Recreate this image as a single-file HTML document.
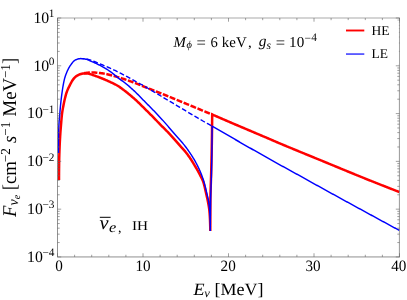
<!DOCTYPE html>
<html><head><meta charset="utf-8"><title>plot</title>
<style>html,body{margin:0;padding:0;background:#fff}body{width:407px;height:300px;overflow:hidden;position:relative;font-family:"Liberation Serif",serif}</style></head>
<body>
<svg width="407" height="300" viewBox="0 0 407 300" style="position:absolute;left:0;top:0">
<rect width="407" height="300" fill="#fff"/>
<g fill="none" stroke-linejoin="round">
<path d="M84.00,73.20 L85.01,73.05 L86.01,72.90 L87.02,72.78 L88.03,72.68 L89.04,72.62 L90.05,72.60 L91.07,72.60 L92.08,72.60 L93.10,72.60 L94.11,72.60 L95.13,72.60 L96.14,72.63 L97.15,72.70 L98.16,72.80 L99.17,72.91 L100.18,73.02 L101.18,73.14 L102.18,73.29 L103.19,73.46 L104.19,73.64 L105.18,73.83 L106.18,74.04 L107.17,74.26 L108.16,74.48 L109.15,74.71 L110.14,74.93 L111.12,75.17 L112.10,75.42 L113.08,75.69 L114.05,75.97 L115.03,76.26 L116.00,76.56 L116.97,76.86 L117.94,77.16 L118.91,77.46 L119.88,77.76 L120.85,78.06 L121.82,78.36 L122.78,78.67 L123.75,78.98 L124.71,79.30 L125.67,79.63 L126.63,79.96 L127.59,80.29 L128.54,80.63 L129.50,80.97 L130.45,81.31 L131.41,81.66 L132.36,82.01 L133.31,82.36 L134.26,82.72 L135.21,83.08 L136.15,83.44 L137.10,83.81 L138.04,84.18 L138.98,84.56 L139.92,84.94 L140.86,85.32 L141.80,85.71 L142.74,86.09 L143.68,86.47 L144.62,86.85 L145.56,87.23 L146.50,87.60 L147.45,87.98 L148.39,88.36 L149.33,88.73 L150.27,89.11 L151.21,89.48 L152.15,89.86 L153.10,90.24 L154.04,90.61 L154.98,90.99 L155.92,91.37 L156.86,91.74 L157.80,92.12 L158.75,92.49 L159.69,92.87 L160.63,93.24 L161.57,93.62 L162.51,94.00 L163.46,94.38 L164.40,94.76 L165.34,95.14 L166.27,95.52 L167.21,95.90 L168.15,96.29 L169.09,96.67 L170.03,97.06 L170.96,97.45 L171.90,97.84 L172.84,98.23 L173.77,98.62 L174.71,99.00 L175.65,99.39 L176.58,99.78 L177.52,100.17 L178.46,100.56 L179.39,100.95 L180.33,101.34 L181.27,101.72 L182.21,102.11 L183.14,102.50 L184.08,102.88 L185.02,103.27 L185.96,103.66 L186.89,104.04 L187.83,104.43 L188.77,104.82 L189.71,105.20 L190.64,105.59 L191.58,105.98 L192.52,106.37 L193.45,106.76 L194.39,107.15 L195.33,107.54 L196.26,107.93 L197.20,108.32 L198.13,108.72 L199.06,109.11 L200.00,109.51 L200.93,109.90 L201.87,110.30 L202.80,110.69 L203.74,111.08 L204.68,111.47 L205.61,111.85 L206.55,112.23 L207.49,112.62 L208.43,113.00 L209.37,113.37 L210.31,113.75 L211.26,114.13 L212.20,114.50" stroke="#f00" stroke-width="2.5" stroke-dasharray="5.9 1.6"/>
<path d="M81.00,58.60 L82.02,58.62 L83.03,58.66 L84.04,58.73 L85.04,58.81 L86.03,58.90 L87.02,59.06 L88.01,59.30 L88.98,59.59 L89.95,59.88 L90.90,60.18 L91.85,60.51 L92.80,60.86 L93.74,61.23 L94.67,61.62 L95.60,62.01 L96.53,62.42 L97.46,62.82 L98.39,63.22 L99.32,63.62 L100.25,64.00 L101.18,64.38 L102.12,64.76 L103.05,65.15 L103.99,65.53 L104.92,65.91 L105.85,66.30 L106.78,66.69 L107.71,67.09 L108.63,67.49 L109.55,67.90 L110.47,68.31 L111.39,68.74 L112.30,69.17 L113.21,69.60 L114.11,70.05 L115.02,70.49 L115.92,70.94 L116.82,71.39 L117.73,71.85 L118.63,72.30 L119.53,72.76 L120.42,73.22 L121.32,73.68 L122.22,74.14 L123.11,74.61 L124.01,75.07 L124.90,75.55 L125.79,76.02 L126.68,76.49 L127.57,76.97 L128.46,77.44 L129.35,77.92 L130.23,78.40 L131.12,78.88 L132.01,79.36 L132.89,79.84 L133.78,80.33 L134.66,80.81 L135.54,81.30 L136.43,81.79 L137.31,82.27 L138.19,82.76 L139.07,83.25 L139.96,83.74 L140.84,84.24 L141.72,84.73 L142.59,85.23 L143.47,85.73 L144.35,86.23 L145.22,86.73 L146.09,87.23 L146.97,87.74 L147.84,88.25 L148.71,88.76 L149.57,89.27 L150.44,89.79 L151.31,90.30 L152.18,90.82 L153.04,91.33 L153.91,91.85 L154.78,92.37 L155.64,92.88 L156.51,93.40 L157.37,93.92 L158.24,94.44 L159.10,94.96 L159.97,95.48 L160.83,96.00 L161.69,96.52 L162.56,97.04 L163.42,97.56 L164.29,98.07 L165.15,98.59 L166.02,99.11 L166.89,99.62 L167.75,100.14 L168.62,100.65 L169.49,101.17 L170.36,101.68 L171.23,102.20 L172.09,102.71 L172.96,103.22 L173.83,103.74 L174.70,104.25 L175.57,104.76 L176.43,105.28 L177.30,105.79 L178.17,106.31 L179.03,106.82 L179.90,107.34 L180.77,107.86 L181.63,108.38 L182.50,108.90 L183.36,109.42 L184.22,109.94 L185.09,110.46 L185.95,110.98 L186.81,111.50 L187.68,112.02 L188.54,112.54 L189.41,113.06 L190.27,113.58 L191.14,114.10 L192.00,114.62 L192.87,115.14 L193.73,115.65 L194.60,116.17 L195.47,116.68 L196.34,117.19 L197.21,117.70 L198.08,118.21 L198.95,118.71 L199.83,119.22 L200.70,119.73 L201.57,120.23 L202.44,120.74 L203.32,121.24 L204.19,121.74 L205.07,122.24 L205.95,122.74 L206.82,123.24 L207.70,123.73 L208.58,124.23 L209.46,124.72 L210.34,125.22 L211.22,125.71 L212.10,126.20" stroke="#00f" stroke-width="1.4" stroke-dasharray="4.9 2.3" stroke-dashoffset="1.7"/>
<path d="M59.00,180.00 L59.00,179.00 L59.00,177.99 L59.01,176.99 L59.01,175.98 L59.02,174.98 L59.02,173.97 L59.03,172.97 L59.04,171.97 L59.05,170.96 L59.06,169.96 L59.07,168.95 L59.08,167.95 L59.10,166.95 L59.11,165.94 L59.13,164.94 L59.14,163.93 L59.15,162.93 L59.17,161.93 L59.19,160.92 L59.20,159.92 L59.22,158.92 L59.24,157.91 L59.26,156.91 L59.29,155.90 L59.32,154.90 L59.35,153.90 L59.39,152.89 L59.42,151.89 L59.46,150.89 L59.50,149.88 L59.54,148.88 L59.58,147.88 L59.62,146.87 L59.66,145.87 L59.71,144.87 L59.75,143.86 L59.80,142.86 L59.84,141.86 L59.90,140.85 L59.95,139.85 L60.01,138.85 L60.06,137.85 L60.12,136.84 L60.18,135.84 L60.25,134.84 L60.31,133.84 L60.38,132.84 L60.45,131.83 L60.52,130.83 L60.60,129.83 L60.68,128.83 L60.76,127.83 L60.85,126.83 L60.93,125.83 L61.01,124.83 L61.10,123.83 L61.18,122.83 L61.26,121.82 L61.34,120.82 L61.42,119.82 L61.51,118.82 L61.60,117.82 L61.70,116.82 L61.80,115.82 L61.90,114.82 L62.02,113.83 L62.15,112.83 L62.29,111.84 L62.45,110.85 L62.62,109.86 L62.79,108.87 L62.97,107.88 L63.16,106.89 L63.35,105.91 L63.53,104.92 L63.73,103.93 L63.93,102.95 L64.13,101.97 L64.35,100.98 L64.57,100.00 L64.80,99.03 L65.04,98.05 L65.28,97.08 L65.54,96.11 L65.80,95.13 L66.08,94.16 L66.37,93.20 L66.68,92.25 L67.01,91.31 L67.37,90.38 L67.76,89.45 L68.17,88.54 L68.61,87.63 L69.06,86.73 L69.52,85.83 L69.98,84.94 L70.44,84.04 L70.90,83.14 L71.37,82.24 L71.86,81.36 L72.38,80.50 L72.94,79.68 L73.54,78.89 L74.19,78.10 L74.90,77.36 L75.64,76.68 L76.42,76.10 L77.26,75.56 L78.16,75.07 L79.09,74.64 L80.02,74.29 L80.98,73.99 L81.95,73.70 L82.95,73.49 L83.94,73.40 L84.94,73.41 L85.95,73.46 L86.96,73.52 L87.95,73.60 L88.94,73.74 L89.91,74.00 L90.87,74.32 L91.83,74.65 L92.78,74.97 L93.72,75.32 L94.66,75.67 L95.60,76.02 L96.55,76.35 L97.50,76.68 L98.45,77.02 L99.39,77.37 L100.32,77.73 L101.26,78.10 L102.19,78.47 L103.12,78.86 L104.04,79.25 L104.97,79.64 L105.89,80.04 L106.81,80.45 L107.72,80.86 L108.64,81.27 L109.55,81.69 L110.46,82.11 L111.37,82.53 L112.29,82.96 L113.20,83.39 L114.10,83.83 L115.00,84.28 L115.89,84.75 L116.77,85.23 L117.63,85.73 L118.48,86.27 L119.31,86.83 L120.14,87.40 L120.96,87.97 L121.78,88.56 L122.59,89.16 L123.39,89.76 L124.19,90.37 L124.98,90.99 L125.77,91.60 L126.56,92.23 L127.35,92.85 L128.13,93.48 L128.91,94.11 L129.69,94.75 L130.46,95.39 L131.24,96.03 L132.00,96.68 L132.77,97.34 L133.52,97.99 L134.28,98.66 L135.03,99.32 L135.77,100.00 L136.51,100.68 L137.24,101.36 L137.96,102.05 L138.69,102.75 L139.41,103.45 L140.12,104.16 L140.84,104.86 L141.55,105.57 L142.26,106.28 L142.97,106.99 L143.69,107.70 L144.40,108.41 L145.11,109.11 L145.83,109.82 L146.54,110.52 L147.26,111.23 L147.97,111.93 L148.69,112.64 L149.40,113.35 L150.11,114.06 L150.82,114.77 L151.53,115.48 L152.24,116.19 L152.95,116.90 L153.65,117.62 L154.35,118.34 L155.05,119.05 L155.75,119.78 L156.44,120.51 L157.12,121.24 L157.81,121.98 L158.50,122.71 L159.19,123.44 L159.88,124.16 L160.58,124.88 L161.29,125.59 L162.01,126.29 L162.74,126.99 L163.46,127.68 L164.18,128.38 L164.89,129.09 L165.59,129.81 L166.29,130.53 L166.98,131.26 L167.67,131.98 L168.36,132.72 L169.05,133.45 L169.73,134.19 L170.41,134.93 L171.09,135.67 L171.76,136.41 L172.44,137.16 L173.11,137.90 L173.78,138.65 L174.46,139.39 L175.13,140.14 L175.79,140.89 L176.46,141.64 L177.12,142.40 L177.78,143.16 L178.43,143.92 L179.09,144.68 L179.75,145.44 L180.41,146.19 L181.07,146.95 L181.73,147.70 L182.41,148.45 L183.09,149.18 L183.78,149.92 L184.45,150.66 L185.10,151.42 L185.74,152.20 L186.36,152.99 L186.97,153.78 L187.58,154.59 L188.17,155.40 L188.76,156.22 L189.34,157.04 L189.91,157.86 L190.47,158.69 L191.02,159.53 L191.57,160.37 L192.10,161.22 L192.64,162.07 L193.16,162.93 L193.68,163.79 L194.20,164.65 L194.71,165.52 L195.22,166.38 L195.73,167.24 L196.24,168.11 L196.74,168.98 L197.24,169.85 L197.74,170.73 L198.22,171.61 L198.70,172.49 L199.17,173.38 L199.64,174.27 L200.11,175.16 L200.58,176.05 L201.05,176.95 L201.51,177.85 L201.96,178.75 L202.38,179.66 L202.77,180.58 L203.13,181.51 L203.45,182.45 L203.74,183.40 L204.01,184.36 L204.26,185.33 L204.50,186.31 L204.74,187.29 L204.96,188.27 L205.18,189.26 L205.40,190.24 L205.62,191.23 L205.85,192.21 L206.08,193.18 L206.31,194.16 L206.54,195.14 L206.76,196.12 L206.99,197.10 L207.20,198.08 L207.41,199.06 L207.61,200.04 L207.81,201.03 L208.00,202.01 L208.19,203.00 L208.38,203.99 L208.56,204.98 L208.74,205.97 L208.90,206.96 L209.05,207.95 L209.18,208.95 L209.29,209.94 L209.39,210.94 L209.48,211.94 L209.57,212.94 L209.65,213.94 L209.72,214.94 L209.79,215.95 L209.85,216.95 L209.91,217.95 L209.96,218.96 L210.00,219.96 L210.04,220.96 L210.08,221.96 L210.11,222.97 L210.15,223.97 L210.18,224.97 L210.21,225.98 L210.24,226.98 L210.26,227.99 L210.28,228.99 L210.29,230.00 L210.30,231.00 L210.30,231.00 L210.30,229.99 L210.30,228.97 L210.30,227.96 L210.30,226.95 L210.30,225.93 L210.30,224.92 L210.31,223.91 L210.31,222.89 L210.31,221.88 L210.31,220.87 L210.32,219.85 L210.32,218.84 L210.32,217.83 L210.32,216.81 L210.33,215.80 L210.33,214.79 L210.34,213.77 L210.34,212.76 L210.34,211.75 L210.35,210.73 L210.35,209.72 L210.36,208.71 L210.36,207.70 L210.37,206.68 L210.37,205.67 L210.38,204.66 L210.38,203.64 L210.39,202.63 L210.40,201.62 L210.40,200.60 L210.41,199.59 L210.42,198.58 L210.44,197.56 L210.46,196.55 L210.48,195.54 L210.50,194.53 L210.52,193.51 L210.55,192.50 L210.58,191.49 L210.61,190.47 L210.64,189.46 L210.67,188.45 L210.70,187.44 L210.74,186.42 L210.77,185.41 L210.80,184.40 L210.84,183.39 L210.88,182.37 L210.91,181.36 L210.95,180.35 L210.98,179.33 L211.01,178.32 L211.05,177.31 L211.08,176.30 L211.11,175.28 L211.14,174.27 L211.17,173.26 L211.19,172.24 L211.22,171.23 L211.24,170.22 L211.27,169.21 L211.29,168.19 L211.32,167.18 L211.34,166.17 L211.37,165.15 L211.39,164.14 L211.42,163.13 L211.44,162.12 L211.47,161.10 L211.49,160.09 L211.51,159.08 L211.54,158.06 L211.56,157.05 L211.58,156.04 L211.61,155.02 L211.63,154.01 L211.65,153.00 L211.67,151.99 L211.69,150.97 L211.71,149.96 L211.73,148.95 L211.75,147.93 L211.77,146.92 L211.78,145.91 L211.80,144.89 L211.82,143.88 L211.84,142.87 L211.85,141.85 L211.87,140.84 L211.88,139.83 L211.90,138.82 L211.92,137.80 L211.93,136.79 L211.95,135.78 L211.96,134.76 L211.98,133.75 L211.99,132.74 L212.00,131.72 L212.02,130.71 L212.03,129.70 L212.05,128.68 L212.06,127.67 L212.07,126.66 L212.08,125.65 L212.10,124.63 L212.11,123.62 L212.12,122.61 L212.13,121.59 L212.14,120.58 L212.15,119.57 L212.16,118.55 L212.17,117.54 L212.18,116.53 L212.19,115.51 L212.20,114.50 L212.20,114.50 L213.12,114.90 L214.05,115.31 L214.97,115.71 L215.90,116.11 L216.82,116.51 L217.74,116.91 L218.67,117.31 L219.59,117.71 L220.52,118.11 L221.44,118.51 L222.37,118.91 L223.29,119.31 L224.22,119.71 L225.14,120.11 L226.07,120.51 L226.99,120.91 L227.92,121.31 L228.84,121.70 L229.77,122.10 L230.70,122.50 L231.62,122.89 L232.55,123.29 L233.48,123.69 L234.40,124.08 L235.33,124.48 L236.26,124.87 L237.18,125.26 L238.11,125.66 L239.04,126.05 L239.97,126.45 L240.89,126.84 L241.82,127.23 L242.75,127.63 L243.68,128.02 L244.61,128.41 L245.53,128.80 L246.46,129.20 L247.39,129.59 L248.32,129.98 L249.24,130.38 L250.17,130.77 L251.10,131.17 L252.03,131.56 L252.95,131.95 L253.88,132.35 L254.81,132.74 L255.74,133.13 L256.66,133.53 L257.59,133.92 L258.52,134.31 L259.45,134.71 L260.37,135.10 L261.30,135.50 L262.23,135.89 L263.16,136.28 L264.08,136.68 L265.01,137.07 L265.94,137.47 L266.87,137.86 L267.79,138.26 L268.72,138.65 L269.65,139.05 L270.57,139.44 L271.50,139.84 L272.42,140.24 L273.35,140.64 L274.27,141.04 L275.20,141.44 L276.12,141.84 L277.05,142.24 L277.97,142.64 L278.90,143.03 L279.83,143.43 L280.76,143.82 L281.68,144.21 L282.61,144.60 L283.54,144.99 L284.47,145.38 L285.40,145.77 L286.33,146.16 L287.26,146.54 L288.19,146.93 L289.12,147.31 L290.05,147.70 L290.99,148.08 L291.92,148.47 L292.85,148.85 L293.78,149.24 L294.71,149.62 L295.64,150.00 L296.57,150.39 L297.51,150.77 L298.44,151.16 L299.37,151.54 L300.30,151.92 L301.23,152.31 L302.16,152.69 L303.10,153.07 L304.03,153.46 L304.96,153.84 L305.89,154.22 L306.83,154.61 L307.76,154.99 L308.69,155.37 L309.62,155.75 L310.55,156.13 L311.49,156.51 L312.42,156.90 L313.35,157.28 L314.28,157.66 L315.22,158.04 L316.15,158.42 L317.08,158.80 L318.01,159.19 L318.95,159.57 L319.88,159.95 L320.81,160.33 L321.74,160.72 L322.68,161.10 L323.61,161.48 L324.54,161.87 L325.47,162.25 L326.40,162.63 L327.33,163.02 L328.26,163.40 L329.20,163.79 L330.13,164.17 L331.06,164.56 L331.99,164.94 L332.92,165.33 L333.85,165.71 L334.78,166.10 L335.71,166.48 L336.65,166.87 L337.58,167.25 L338.51,167.64 L339.44,168.02 L340.37,168.41 L341.30,168.79 L342.23,169.18 L343.16,169.56 L344.09,169.95 L345.03,170.33 L345.96,170.72 L346.89,171.10 L347.82,171.49 L348.75,171.87 L349.68,172.25 L350.62,172.64 L351.55,173.02 L352.48,173.40 L353.41,173.78 L354.34,174.17 L355.28,174.55 L356.21,174.93 L357.14,175.31 L358.08,175.69 L359.01,176.07 L359.94,176.45 L360.88,176.83 L361.81,177.21 L362.74,177.59 L363.68,177.96 L364.61,178.34 L365.55,178.72 L366.48,179.09 L367.42,179.47 L368.35,179.84 L369.29,180.22 L370.22,180.59 L371.16,180.96 L372.09,181.34 L373.03,181.71 L373.97,182.08 L374.90,182.45 L375.84,182.83 L376.78,183.20 L377.71,183.57 L378.65,183.94 L379.59,184.31 L380.52,184.68 L381.46,185.05 L382.40,185.42 L383.34,185.78 L384.28,186.15 L385.21,186.52 L386.15,186.89 L387.09,187.26 L388.03,187.62 L388.97,187.99 L389.91,188.36 L390.84,188.72 L391.78,189.09 L392.72,189.45 L393.66,189.82 L394.60,190.18 L395.54,190.55 L396.48,190.91 L397.42,191.27 L398.36,191.64 L399.30,192.00" stroke="#f00" stroke-width="2.5" stroke-linejoin="miter"/>
<path d="M58.50,153.00 L58.50,152.00 L58.50,150.99 L58.50,149.99 L58.50,148.99 L58.51,147.98 L58.51,146.98 L58.51,145.98 L58.52,144.97 L58.52,143.97 L58.53,142.97 L58.54,141.96 L58.54,140.96 L58.55,139.96 L58.56,138.95 L58.56,137.95 L58.57,136.95 L58.58,135.94 L58.59,134.94 L58.60,133.94 L58.61,132.93 L58.64,131.93 L58.66,130.93 L58.69,129.92 L58.73,128.92 L58.77,127.92 L58.81,126.92 L58.86,125.91 L58.90,124.91 L58.96,123.91 L59.02,122.91 L59.10,121.91 L59.18,120.91 L59.27,119.91 L59.36,118.91 L59.45,117.91 L59.54,116.91 L59.64,115.91 L59.72,114.91 L59.81,113.91 L59.89,112.91 L59.96,111.91 L60.04,110.91 L60.12,109.91 L60.21,108.91 L60.30,107.91 L60.39,106.91 L60.49,105.92 L60.59,104.92 L60.69,103.92 L60.79,102.92 L60.90,101.92 L61.01,100.93 L61.12,99.93 L61.24,98.93 L61.36,97.94 L61.48,96.94 L61.61,95.95 L61.74,94.95 L61.87,93.96 L62.01,92.96 L62.14,91.97 L62.28,90.97 L62.42,89.98 L62.57,88.99 L62.72,87.99 L62.87,87.00 L63.04,86.01 L63.21,85.03 L63.39,84.04 L63.58,83.05 L63.78,82.07 L63.99,81.09 L64.22,80.11 L64.45,79.13 L64.70,78.16 L64.98,77.20 L65.29,76.25 L65.62,75.30 L65.97,74.35 L66.33,73.42 L66.70,72.48 L67.09,71.56 L67.50,70.64 L67.93,69.73 L68.37,68.83 L68.84,67.95 L69.34,67.08 L69.88,66.23 L70.43,65.39 L71.01,64.56 L71.60,63.76 L72.21,62.94 L72.85,62.12 L73.52,61.37 L74.25,60.73 L75.07,60.20 L75.97,59.72 L76.92,59.31 L77.88,59.03 L78.86,58.83 L79.86,58.68 L80.86,58.60 L81.86,58.62 L82.87,58.71 L83.87,58.83 L84.87,58.99 L85.85,59.17 L86.80,59.41 L87.74,59.76 L88.66,60.19 L89.58,60.62 L90.51,61.01 L91.43,61.41 L92.35,61.81 L93.27,62.21 L94.19,62.62 L95.11,63.03 L96.02,63.45 L96.93,63.87 L97.84,64.31 L98.73,64.75 L99.63,65.21 L100.51,65.67 L101.39,66.14 L102.27,66.63 L103.15,67.12 L104.02,67.62 L104.89,68.13 L105.75,68.65 L106.61,69.18 L107.46,69.72 L108.30,70.26 L109.13,70.81 L109.96,71.37 L110.78,71.95 L111.58,72.54 L112.38,73.15 L113.17,73.77 L113.95,74.40 L114.73,75.04 L115.50,75.68 L116.27,76.32 L117.05,76.96 L117.83,77.60 L118.61,78.23 L119.40,78.85 L120.20,79.45 L121.02,80.04 L121.84,80.62 L122.66,81.19 L123.48,81.77 L124.29,82.36 L125.09,82.97 L125.87,83.59 L126.65,84.23 L127.42,84.87 L128.18,85.52 L128.94,86.17 L129.70,86.83 L130.45,87.50 L131.20,88.17 L131.94,88.85 L132.68,89.53 L133.42,90.22 L134.15,90.90 L134.88,91.59 L135.61,92.28 L136.33,92.97 L137.04,93.67 L137.76,94.38 L138.46,95.09 L139.17,95.80 L139.87,96.52 L140.57,97.24 L141.27,97.96 L141.97,98.68 L142.67,99.41 L143.36,100.13 L144.06,100.85 L144.77,101.56 L145.47,102.28 L146.18,102.99 L146.88,103.70 L147.59,104.42 L148.29,105.13 L149.00,105.84 L149.70,106.56 L150.41,107.27 L151.11,107.99 L151.81,108.70 L152.52,109.42 L153.21,110.14 L153.91,110.86 L154.61,111.59 L155.30,112.31 L155.99,113.04 L156.68,113.77 L157.37,114.50 L158.06,115.23 L158.74,115.96 L159.43,116.69 L160.11,117.43 L160.79,118.17 L161.47,118.90 L162.15,119.64 L162.83,120.38 L163.50,121.13 L164.17,121.87 L164.84,122.62 L165.51,123.37 L166.17,124.13 L166.83,124.88 L167.48,125.64 L168.13,126.40 L168.78,127.17 L169.43,127.93 L170.08,128.70 L170.73,129.47 L171.37,130.23 L172.02,131.00 L172.67,131.77 L173.32,132.53 L173.97,133.30 L174.62,134.06 L175.28,134.82 L175.94,135.58 L176.60,136.33 L177.27,137.08 L177.94,137.82 L178.62,138.57 L179.29,139.32 L179.96,140.07 L180.63,140.81 L181.29,141.57 L181.95,142.32 L182.61,143.08 L183.26,143.85 L183.89,144.62 L184.52,145.40 L185.14,146.18 L185.75,146.98 L186.35,147.78 L186.94,148.59 L187.53,149.41 L188.11,150.23 L188.68,151.05 L189.25,151.88 L189.81,152.71 L190.37,153.55 L190.92,154.38 L191.47,155.22 L192.02,156.07 L192.56,156.92 L193.09,157.77 L193.61,158.62 L194.13,159.48 L194.63,160.35 L195.12,161.22 L195.61,162.10 L196.09,162.98 L196.56,163.87 L197.03,164.76 L197.49,165.65 L197.95,166.55 L198.39,167.45 L198.82,168.36 L199.24,169.27 L199.65,170.18 L200.04,171.10 L200.43,172.02 L200.81,172.95 L201.18,173.88 L201.54,174.82 L201.90,175.76 L202.25,176.71 L202.59,177.65 L202.92,178.60 L203.24,179.56 L203.54,180.51 L203.84,181.47 L204.12,182.43 L204.40,183.39 L204.66,184.36 L204.91,185.33 L205.15,186.30 L205.39,187.28 L205.63,188.26 L205.85,189.23 L206.08,190.21 L206.31,191.19 L206.54,192.17 L206.77,193.14 L207.01,194.12 L207.25,195.10 L207.49,196.07 L207.72,197.05 L207.93,198.03 L208.14,199.01 L208.33,200.00 L208.50,200.98 L208.65,201.97 L208.80,202.96 L208.94,203.96 L209.08,204.95 L209.20,205.95 L209.32,206.95 L209.42,207.95 L209.52,208.95 L209.60,209.95 L209.67,210.94 L209.73,211.94 L209.79,212.95 L209.85,213.95 L209.90,214.95 L209.95,215.95 L210.00,216.96 L210.03,217.96 L210.07,218.96 L210.10,219.97 L210.13,220.97 L210.15,221.97 L210.18,222.97 L210.20,223.98 L210.22,224.98 L210.24,225.98 L210.26,226.99 L210.28,227.99 L210.29,228.99 L210.30,230.00 L210.30,231.00 L210.30,231.00 L210.30,229.98 L210.30,228.96 L210.30,227.95 L210.31,226.93 L210.31,225.91 L210.32,224.89 L210.32,223.88 L210.33,222.86 L210.34,221.84 L210.35,220.82 L210.35,219.80 L210.36,218.79 L210.37,217.77 L210.38,216.75 L210.40,215.73 L210.41,214.72 L210.42,213.70 L210.43,212.68 L210.45,211.66 L210.46,210.65 L210.47,209.63 L210.49,208.61 L210.50,207.59 L210.52,206.58 L210.53,205.56 L210.55,204.54 L210.56,203.52 L210.58,202.51 L210.59,201.49 L210.61,200.47 L210.63,199.45 L210.65,198.44 L210.67,197.42 L210.70,196.40 L210.72,195.39 L210.75,194.37 L210.78,193.35 L210.82,192.33 L210.85,191.32 L210.89,190.30 L210.92,189.28 L210.96,188.27 L211.00,187.25 L211.03,186.23 L211.07,185.21 L211.11,184.20 L211.15,183.18 L211.18,182.16 L211.22,181.15 L211.26,180.13 L211.29,179.11 L211.33,178.09 L211.36,177.08 L211.39,176.06 L211.42,175.04 L211.45,174.03 L211.48,173.01 L211.50,171.99 L211.52,170.97 L211.55,169.96 L211.57,168.94 L211.59,167.92 L211.61,166.90 L211.63,165.89 L211.65,164.87 L211.68,163.85 L211.70,162.83 L211.72,161.82 L211.73,160.80 L211.75,159.78 L211.77,158.76 L211.79,157.75 L211.81,156.73 L211.82,155.71 L211.84,154.69 L211.85,153.68 L211.87,152.66 L211.88,151.64 L211.89,150.62 L211.90,149.61 L211.92,148.59 L211.93,147.57 L211.94,146.55 L211.95,145.54 L211.96,144.52 L211.97,143.50 L211.98,142.48 L211.99,141.46 L212.00,140.45 L212.01,139.43 L212.02,138.41 L212.03,137.39 L212.04,136.38 L212.05,135.36 L212.06,134.34 L212.06,133.32 L212.07,132.31 L212.08,131.29 L212.08,130.27 L212.09,129.25 L212.09,128.24 L212.10,127.22 L212.10,126.20 L212.10,126.20 L212.97,126.70 L213.84,127.20 L214.72,127.71 L215.59,128.21 L216.46,128.71 L217.33,129.21 L218.20,129.71 L219.07,130.22 L219.95,130.72 L220.82,131.22 L221.69,131.72 L222.56,132.22 L223.43,132.72 L224.31,133.23 L225.18,133.73 L226.05,134.23 L226.92,134.73 L227.79,135.23 L228.66,135.73 L229.54,136.23 L230.41,136.74 L231.28,137.24 L232.15,137.74 L233.02,138.24 L233.90,138.74 L234.77,139.24 L235.64,139.75 L236.51,140.25 L237.38,140.75 L238.25,141.25 L239.13,141.75 L240.00,142.26 L240.87,142.76 L241.74,143.26 L242.61,143.76 L243.49,144.26 L244.36,144.76 L245.23,145.26 L246.10,145.76 L246.98,146.26 L247.85,146.76 L248.72,147.26 L249.60,147.76 L250.47,148.25 L251.35,148.75 L252.22,149.25 L253.10,149.75 L253.97,150.24 L254.84,150.74 L255.72,151.24 L256.59,151.74 L257.47,152.23 L258.34,152.73 L259.22,153.23 L260.09,153.72 L260.97,154.22 L261.84,154.71 L262.72,155.21 L263.59,155.70 L264.47,156.20 L265.34,156.69 L266.22,157.19 L267.10,157.68 L267.97,158.18 L268.85,158.67 L269.73,159.16 L270.60,159.66 L271.48,160.15 L272.36,160.64 L273.24,161.13 L274.11,161.62 L274.99,162.11 L275.87,162.60 L276.75,163.09 L277.63,163.58 L278.51,164.07 L279.39,164.56 L280.27,165.05 L281.15,165.53 L282.03,166.02 L282.91,166.50 L283.79,166.98 L284.68,167.46 L285.56,167.95 L286.44,168.43 L287.33,168.91 L288.21,169.39 L289.09,169.87 L289.97,170.36 L290.85,170.85 L291.73,171.33 L292.61,171.82 L293.49,172.30 L294.37,172.79 L295.26,173.28 L296.13,173.77 L297.01,174.25 L297.89,174.74 L298.77,175.23 L299.65,175.72 L300.53,176.21 L301.41,176.70 L302.29,177.18 L303.17,177.67 L304.05,178.16 L304.93,178.65 L305.81,179.14 L306.68,179.63 L307.56,180.12 L308.44,180.61 L309.32,181.10 L310.20,181.59 L311.08,182.08 L311.96,182.57 L312.84,183.06 L313.72,183.54 L314.59,184.03 L315.47,184.52 L316.35,185.01 L317.23,185.50 L318.11,185.99 L318.99,186.48 L319.87,186.96 L320.75,187.45 L321.63,187.94 L322.51,188.43 L323.39,188.91 L324.27,189.40 L325.15,189.88 L326.03,190.37 L326.91,190.86 L327.80,191.34 L328.68,191.83 L329.56,192.31 L330.44,192.80 L331.32,193.28 L332.20,193.77 L333.08,194.25 L333.96,194.74 L334.85,195.22 L335.73,195.70 L336.61,196.19 L337.49,196.67 L338.37,197.16 L339.25,197.64 L340.14,198.12 L341.02,198.61 L341.90,199.09 L342.78,199.57 L343.66,200.06 L344.55,200.54 L345.43,201.02 L346.31,201.51 L347.19,201.99 L348.08,202.47 L348.96,202.96 L349.84,203.44 L350.72,203.92 L351.61,204.41 L352.49,204.89 L353.37,205.37 L354.25,205.85 L355.14,206.34 L356.02,206.82 L356.90,207.30 L357.78,207.78 L358.67,208.27 L359.55,208.75 L360.43,209.23 L361.32,209.71 L362.20,210.19 L363.08,210.68 L363.96,211.16 L364.85,211.64 L365.73,212.12 L366.61,212.60 L367.50,213.09 L368.38,213.57 L369.26,214.05 L370.14,214.53 L371.03,215.01 L371.91,215.50 L372.79,215.98 L373.68,216.46 L374.56,216.94 L375.44,217.42 L376.32,217.90 L377.21,218.39 L378.09,218.87 L378.97,219.35 L379.86,219.83 L380.74,220.31 L381.62,220.79 L382.51,221.27 L383.39,221.75 L384.28,222.23 L385.16,222.72 L386.04,223.20 L386.93,223.68 L387.81,224.16 L388.69,224.64 L389.58,225.12 L390.46,225.60 L391.34,226.08 L392.23,226.56 L393.11,227.04 L394.00,227.52 L394.88,228.00 L395.76,228.48 L396.65,228.96 L397.53,229.44 L398.42,229.92 L399.30,230.40" stroke="#00f" stroke-width="1.45" stroke-linejoin="miter"/>
</g>
<g stroke="#666" fill="none">
<path d="M57.5,18.0V256.95" stroke-width="0.72"/>
<path d="M399.4,18.0V256.95" stroke-width="0.68"/>
<path d="M57.14,18.0H399.87" stroke-width="0.56"/>
<path d="M57.14,256.95H399.87" stroke-width="0.74"/>
</g>
<path d="M57.50,256.95v-3.7M57.50,18.0v3.7 M74.60,256.95v-2.2M74.60,18.0v2.2 M91.70,256.95v-2.2M91.70,18.0v2.2 M108.80,256.95v-2.2M108.80,18.0v2.2 M125.90,256.95v-2.2M125.90,18.0v2.2 M143.00,256.95v-3.7M143.00,18.0v3.7 M160.10,256.95v-2.2M160.10,18.0v2.2 M177.20,256.95v-2.2M177.20,18.0v2.2 M194.30,256.95v-2.2M194.30,18.0v2.2 M211.40,256.95v-2.2M211.40,18.0v2.2 M228.50,256.95v-3.7M228.50,18.0v3.7 M245.60,256.95v-2.2M245.60,18.0v2.2 M262.70,256.95v-2.2M262.70,18.0v2.2 M279.80,256.95v-2.2M279.80,18.0v2.2 M296.90,256.95v-2.2M296.90,18.0v2.2 M314.00,256.95v-3.7M314.00,18.0v3.7 M331.10,256.95v-2.2M331.10,18.0v2.2 M348.20,256.95v-2.2M348.20,18.0v2.2 M365.30,256.95v-2.2M365.30,18.0v2.2 M382.40,256.95v-2.2M382.40,18.0v2.2 M399.50,256.95v-3.7M399.50,18.0v3.7 M57.5,256.95h3.7M399.5,256.95h-3.7 M57.5,242.56h2.2M399.5,242.56h-2.2 M57.5,234.15h2.2M399.5,234.15h-2.2 M57.5,228.18h2.2M399.5,228.18h-2.2 M57.5,223.55h2.2M399.5,223.55h-2.2 M57.5,219.76h2.2M399.5,219.76h-2.2 M57.5,216.56h2.2M399.5,216.56h-2.2 M57.5,213.79h2.2M399.5,213.79h-2.2 M57.5,211.35h2.2M399.5,211.35h-2.2 M57.5,209.16h3.7M399.5,209.16h-3.7 M57.5,194.77h2.2M399.5,194.77h-2.2 M57.5,186.36h2.2M399.5,186.36h-2.2 M57.5,180.39h2.2M399.5,180.39h-2.2 M57.5,175.76h2.2M399.5,175.76h-2.2 M57.5,171.97h2.2M399.5,171.97h-2.2 M57.5,168.77h2.2M399.5,168.77h-2.2 M57.5,166.00h2.2M399.5,166.00h-2.2 M57.5,163.56h2.2M399.5,163.56h-2.2 M57.5,161.37h3.7M399.5,161.37h-3.7 M57.5,146.98h2.2M399.5,146.98h-2.2 M57.5,138.57h2.2M399.5,138.57h-2.2 M57.5,132.60h2.2M399.5,132.60h-2.2 M57.5,127.97h2.2M399.5,127.97h-2.2 M57.5,124.18h2.2M399.5,124.18h-2.2 M57.5,120.98h2.2M399.5,120.98h-2.2 M57.5,118.21h2.2M399.5,118.21h-2.2 M57.5,115.77h2.2M399.5,115.77h-2.2 M57.5,113.58h3.7M399.5,113.58h-3.7 M57.5,99.19h2.2M399.5,99.19h-2.2 M57.5,90.78h2.2M399.5,90.78h-2.2 M57.5,84.81h2.2M399.5,84.81h-2.2 M57.5,80.18h2.2M399.5,80.18h-2.2 M57.5,76.39h2.2M399.5,76.39h-2.2 M57.5,73.19h2.2M399.5,73.19h-2.2 M57.5,70.42h2.2M399.5,70.42h-2.2 M57.5,67.98h2.2M399.5,67.98h-2.2 M57.5,65.79h3.7M399.5,65.79h-3.7 M57.5,51.40h2.2M399.5,51.40h-2.2 M57.5,42.99h2.2M399.5,42.99h-2.2 M57.5,37.02h2.2M399.5,37.02h-2.2 M57.5,32.39h2.2M399.5,32.39h-2.2 M57.5,28.60h2.2M399.5,28.60h-2.2 M57.5,25.40h2.2M399.5,25.40h-2.2 M57.5,22.63h2.2M399.5,22.63h-2.2 M57.5,20.19h2.2M399.5,20.19h-2.2 M57.5,18.00h3.7M399.5,18.00h-3.7" stroke="#666" stroke-width="0.62" fill="none"/>
<rect x="340" y="20.5" width="58.9" height="43.5" fill="#fff"/>
<path d="M346,30.5H364.3" stroke="#f00" stroke-width="1.9"/>
<path d="M346,54.05H364.3" stroke="#00f" stroke-width="1.2"/>
<g style="font-family:'Liberation Serif',serif;text-rendering:geometricPrecision;will-change:transform" fill="#000">
<text transform="translate(59.10,271.4) scale(0.96,1)" font-size="15.8" text-anchor="middle">0</text>
<text transform="translate(143.00,271.4) scale(0.96,1)" font-size="15.8" text-anchor="middle">10</text>
<text transform="translate(228.15,271.4) scale(0.96,1)" font-size="15.8" text-anchor="middle">20</text>
<text transform="translate(313.10,271.4) scale(0.96,1)" font-size="15.8" text-anchor="middle">30</text>
<text transform="translate(398.70,271.4) scale(0.96,1)" font-size="15.8" text-anchor="middle">40</text>
<text x="49.2" y="22.80" font-size="15.8" text-anchor="end">10</text>
<text x="48.7" y="17.20" font-size="11.3">1</text>
<text x="49.2" y="70.59" font-size="15.8" text-anchor="end">10</text>
<text x="48.7" y="64.99" font-size="11.3">0</text>
<text x="42.9" y="118.38" font-size="15.8" text-anchor="end">10</text>
<text x="42.5" y="112.78" font-size="11.3">−</text>
<text x="48.8" y="112.78" font-size="11.3">1</text>
<text x="42.9" y="166.17" font-size="15.8" text-anchor="end">10</text>
<text x="42.5" y="160.57" font-size="11.3">−</text>
<text x="48.8" y="160.57" font-size="11.3">2</text>
<text x="42.9" y="213.96" font-size="15.8" text-anchor="end">10</text>
<text x="42.5" y="208.36" font-size="11.3">−</text>
<text x="48.8" y="208.36" font-size="11.3">3</text>
<text x="42.9" y="261.75" font-size="15.8" text-anchor="end">10</text>
<text x="42.5" y="256.15" font-size="11.3">−</text>
<text x="48.8" y="256.15" font-size="11.3">4</text>
<text transform="translate(193.6,294.8) scale(1.045,1)" font-size="17.3"><tspan font-style="italic">E</tspan><tspan font-style="italic" font-size="12.2" dy="2.3" dx="-0.3">ν</tspan><tspan dy="-2.3"> [MeV]</tspan></text>
<text transform="translate(15.6,217.0) rotate(-90) scale(1,1.04)" font-size="18.7"><tspan font-style="italic">F</tspan><tspan font-style="italic" font-size="14" dy="2.6">ν</tspan><tspan font-style="italic" font-size="10" dy="1.6">e</tspan><tspan dy="-4.2"> [cm</tspan><tspan font-size="13.2" dy="-5.6" dx="-1">−2</tspan><tspan dy="5.6" dx="0.4"> </tspan><tspan font-style="italic">s</tspan><tspan font-size="13.2" dy="-5.6">−1</tspan><tspan dy="5.6" dx="0.6"> MeV</tspan><tspan font-size="13.2" dy="-5.6">−1</tspan><tspan dy="5.6">]</tspan></text>
<text class="ann" x="173.4" y="46.5" font-size="14.8" font-style="italic">M</text>
<text class="ann" x="186.4" y="48.4" font-size="10.5" font-style="italic">ϕ</text>
<text class="ann" x="196.6" y="47.5" font-size="16.6">=</text>
<text class="ann" x="210.4" y="46.5" font-size="14.6">6</text>
<text class="ann" x="221.8" y="46.8" font-size="14.9">ke</text>
<text class="ann" x="236.1" y="46.8" font-size="14.9">V</text>
<text class="ann" x="247.9" y="46.8" font-size="14.9">,</text>
<text class="ann" x="258.7" y="46.3" font-size="15.4" font-style="italic">g</text>
<text class="ann" x="266.4" y="48.8" font-size="11.5" font-style="italic">s</text>
<text class="ann" x="275.8" y="47.5" font-size="16.6">=</text>
<text class="ann" x="289.1" y="46.6" font-size="15.1">10</text>
<text class="ann" x="304.5" y="41.9" font-size="11.6">−</text>
<text class="ann" x="311.3" y="41.1" font-size="11.4">4</text>
<text x="371.6" y="34.9" font-size="13.5">HE</text>
<text x="371.6" y="58.4" font-size="13.5">LE</text>
<text transform="translate(99.4,229.4) scale(1.07,1)" font-size="19" font-style="italic">ν</text>
<text transform="translate(109.0,232.3) scale(1.12,1)" font-size="14.5" font-style="italic">e</text>
<text x="118.0" y="232.2" font-size="14">,</text>
<text transform="translate(131.9,230.0) scale(1.13,1)" font-size="13.5">IH</text>
<path d="M99.8,217.3H110.6" stroke="#000" stroke-width="1"/>
</g>
</svg>
</body></html>
